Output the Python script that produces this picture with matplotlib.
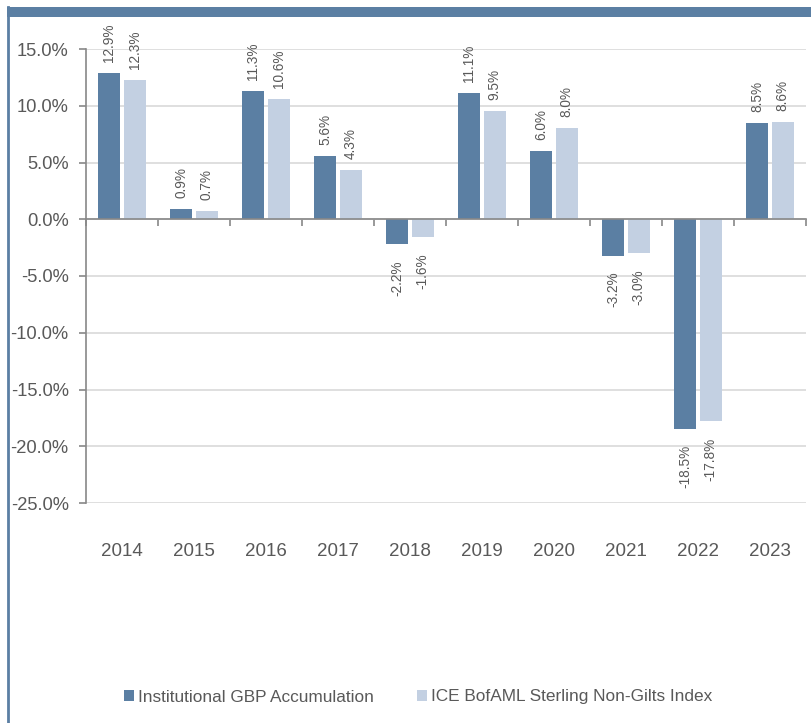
import matplotlib
matplotlib.use("Agg")
import matplotlib.pyplot as plt
from matplotlib.patches import Patch, Rectangle
from matplotlib.lines import Line2D
import numpy as np

plt.rcParams['font.family'] = ['Liberation Sans', 'DejaVu Sans']

years = ["2014", "2015", "2016", "2017", "2018", "2019", "2020", "2021", "2022", "2023"]
fund = [12.9, 0.9, 11.3, 5.6, -2.2, 11.1, 6.0, -3.2, -18.5, 8.5]
index = [12.3, 0.7, 10.6, 4.3, -1.6, 9.5, 8.0, -3.0, -17.8, 8.6]
series_names = ["Institutional GBP Accumulation", "ICE BofAML Sterling Non-Gilts Index"]
yticks = [15, 10, 5, 0, -5, -10, -15, -20, -25]

dark = "#5b7fa3"
light = "#c3d0e2"
txt = "#595959"

fig = plt.figure(figsize=(8.11, 7.23), dpi=100)
# frame decorations
fig.patches.append(Rectangle((7/811, 1-17/723), 1-7/811, 10/723, transform=fig.transFigure,
                             facecolor=dark, edgecolor='none'))
fig.lines.append(Line2D([8/811, 8/811], [0, 1-7/723], transform=fig.transFigure,
                        color=dark, lw=2))

ax = fig.add_axes([86/811, 1-503/723, 720/811, 454/723])
x = np.arange(len(years))
w = 0.31
gap = 0.045
b1 = ax.bar(x - (w + gap)/2, fund, w, color=dark, zorder=3)
b2 = ax.bar(x + (w + gap)/2, index, w, color=light, zorder=3)

for bars, vals in ((b1, fund), (b2, index)):
    for b, v in zip(bars, vals):
        cx = b.get_x() + b.get_width()/2
        if v >= 0:
            ax.annotate(f"{v:.1f}%", (cx, v), xytext=(0, 8), textcoords='offset points',
                        rotation=90, ha='center', va='bottom', fontsize=9.8, color=txt)
        else:
            ax.annotate(f"{v:.1f}%", (cx, v), xytext=(0, -11.5), textcoords='offset points',
                        rotation=90, ha='center', va='top', fontsize=9.8, color=txt)

ax.set_xlim(-0.5, len(years) - 0.5)
ax.set_ylim(-25, 15)
ax.set_yticks(yticks)
ax.set_yticklabels([f"{t:.1f}%" for t in yticks])
ax.yaxis.grid(True, color="#d9d9d9", lw=1.2, zorder=0)
ax.tick_params(axis='y', labelsize=13.2, labelcolor=txt, color="#888888", length=5, width=1.2, pad=7.5)

for s in ['top', 'right']:
    ax.spines[s].set_visible(False)
ax.spines['left'].set_color("#888888")
ax.spines['left'].set_linewidth(1.2)
ax.spines['bottom'].set_position(('data', 0))
ax.spines['bottom'].set_color("#888888")
ax.spines['bottom'].set_linewidth(1.2)
ax.spines['bottom'].set_zorder(4)

ax.set_xticks(np.arange(len(years) + 1) - 0.5)
ax.set_xticklabels([])
ax.tick_params(axis='x', length=5, width=1.2, color="#888888", direction='out')

for i, yr in enumerate(years):
    ax.annotate(yr, (i, -25), xytext=(0, -35), textcoords='offset points',
                ha='center', va='center', fontsize=13.5, color=txt, annotation_clip=False)

handles = [Patch(facecolor=dark, edgecolor='none'), Patch(facecolor=light, edgecolor='none')]
fig.legend(handles, series_names, loc='center', bbox_to_anchor=(418/811, 1-697/723),
           ncol=2, frameon=False, fontsize=12.4, labelcolor=txt,
           handlelength=0.6, handleheight=0.6, handletextpad=0.2, columnspacing=2.5)

fig.savefig("out.png", dpi=100)
